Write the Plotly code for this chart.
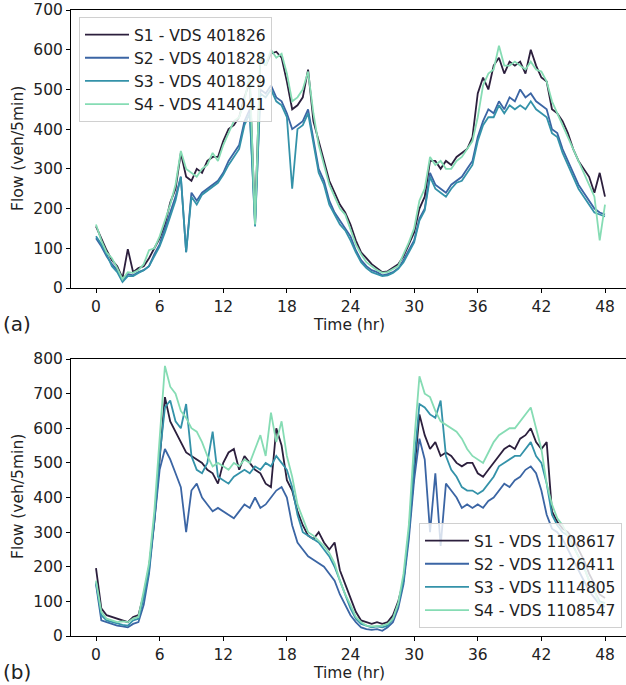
import plotly.graph_objects as go

# time grid (hours), 30-min samples
time_hr = [i * 0.5 for i in range(97)]

# ---- Panel (a) ----
a_names = ["S1 - VDS 401826", "S2 - VDS 401828", "S3 - VDS 401829", "S4 - VDS 414041"]
a_s1 = [155,125,95,70,55,25,98,40,50,55,75,100,125,160,215,250,340,280,270,300,290,320,330,330,
        370,400,410,430,480,520,170,580,560,590,595,580,520,450,460,480,550,420,370,320,270,240,
        210,190,160,120,90,75,60,50,40,42,50,60,80,110,140,200,230,320,320,300,320,310,330,340,
        350,380,490,530,500,560,580,540,570,560,570,540,600,560,530,520,450,440,420,390,350,320,
        300,280,240,290,230]
a_s2 = [125,105,80,60,45,18,35,32,40,45,55,85,110,150,190,230,280,90,240,220,240,250,260,270,
        290,320,340,360,420,450,160,500,490,510,480,470,440,400,410,420,450,380,300,270,220,190,
        170,150,130,95,70,55,45,40,32,35,40,50,70,95,120,175,200,290,260,250,240,260,270,280,
        300,320,380,420,450,440,470,450,480,470,500,480,490,470,460,450,400,390,350,320,290,260,
        240,220,200,190,185]
a_s3 = [130,110,85,55,40,15,30,30,38,45,55,80,105,140,180,220,280,90,230,210,235,245,255,265,
        285,310,330,350,410,440,155,490,480,500,470,460,430,250,400,410,440,370,290,260,210,185,
        160,145,120,90,65,50,40,35,30,32,38,48,65,90,115,170,195,280,250,240,230,250,265,270,
        290,310,370,410,430,430,460,440,460,450,460,450,470,450,440,430,390,380,340,310,280,250,
        230,210,190,185,180]
a_s4 = [160,120,90,75,50,22,40,38,45,60,95,100,130,170,210,260,345,300,290,280,300,310,340,320,
        360,390,420,430,470,540,160,590,560,600,580,590,540,470,480,500,545,440,360,310,260,230,
        200,185,150,110,85,65,55,45,38,40,48,55,85,115,150,220,250,330,310,320,300,300,320,330,
        350,370,430,510,540,550,610,560,560,570,560,550,570,550,545,520,470,440,410,380,350,320,
        290,260,230,120,210]

# ---- Panel (b) ----
b_names = ["S1 - VDS 1108617", "S2 - VDS 1126411", "S3 - VDS 1114805", "S4 - VDS 1108547"]
b_s1 = [196,80,60,55,50,45,40,55,60,120,200,330,500,690,620,590,560,530,520,510,500,480,470,440,
        500,530,540,480,520,500,480,470,440,430,600,550,450,420,360,320,290,280,300,270,250,270,
        190,150,110,70,45,40,35,40,35,40,60,100,160,300,480,640,580,540,560,520,530,520,500,490,
        500,500,470,460,480,500,520,540,550,540,570,580,600,560,540,560,360,330,310,300,280,250,
        220,180,150,120,110]
b_s2 = [150,45,40,35,30,28,25,35,40,90,180,330,480,540,510,470,430,300,420,440,400,380,360,370,
        360,350,340,360,380,370,400,370,380,400,420,430,400,320,270,250,230,220,210,200,180,160,
        120,90,60,40,25,20,18,20,15,25,40,80,150,280,450,570,510,300,470,260,440,420,400,370,
        380,370,380,370,390,400,420,440,430,450,460,480,490,470,420,350,310,300,280,250,220,190,
        160,130,110,90,85]
b_s3 = [155,60,45,40,35,32,30,45,50,110,190,340,520,660,680,620,600,670,520,480,470,500,590,460,
        450,440,460,470,480,470,490,480,500,490,520,500,480,430,350,300,290,280,270,250,230,200,
        160,120,80,50,35,30,25,28,25,30,50,90,160,300,500,670,660,640,630,680,520,480,460,430,
        420,420,410,420,440,460,490,500,510,520,520,540,560,520,500,440,350,320,300,290,260,230,
        200,160,130,100,95]
b_s4 = [160,70,50,45,40,42,40,50,55,130,210,360,560,780,720,700,650,630,600,590,560,520,490,500,
        490,480,500,490,510,500,540,580,520,645,560,620,520,460,380,340,300,290,275,260,240,210,
        160,120,90,55,40,30,28,30,30,35,50,95,180,320,560,750,700,690,650,620,610,600,590,570,
        540,520,510,500,530,560,580,590,600,600,620,640,660,600,540,440,380,340,320,290,260,230,
        200,160,130,90,95]

colors = ["#2c1f3d", "#3b65a4", "#3492a9", "#86dcb4"]

fig = go.Figure()
for name, ys, c in zip(a_names, [a_s1, a_s2, a_s3, a_s4], colors):
    fig.add_trace(go.Scatter(x=time_hr, y=ys, mode="lines", name=name,
                             line=dict(color=c, width=1.8), xaxis="x", yaxis="y",
                             legend="legend", legendgroup="a" + name))
for name, ys, c in zip(b_names, [b_s1, b_s2, b_s3, b_s4], colors):
    fig.add_trace(go.Scatter(x=time_hr, y=ys, mode="lines", name=name,
                             line=dict(color=c, width=1.8), xaxis="x2", yaxis="y2",
                             legend="legend2", legendgroup="b" + name))

FONT = "DejaVu Sans"
FS = 15.5
TXT = "#222222"
W, H = 626, 685
ML, MR, MT, MB = 71, 0, 10, 49
PW = W - ML - MR
PH = H - MT - MB

def px_to_paper_x(px):
    return (px - ML) / PW

def py_to_paper_y(py):
    return (H - MB - py) / PH

top_dom = [py_to_paper_y(288), 1.0]
bot_dom = [0.0, py_to_paper_y(359)]

xrange_ = [-2.358, 49.98]
axis_common = dict(showline=True, linecolor="black", linewidth=1, ticks="outside",
                   ticklen=4, tickwidth=1, tickcolor="black", showgrid=False, zeroline=False,
                   tickfont=dict(family=FONT, size=FS, color=TXT))
xticks = [0, 6, 12, 18, 24, 30, 36, 42, 48]

legend_common = dict(bgcolor="rgba(255,255,255,0.8)", bordercolor="#d0d0d0", borderwidth=1,
                     font=dict(family=FONT, size=FS, color=TXT), tracegroupgap=0,
                     traceorder="grouped", itemwidth=44)

fig.update_layout(
    width=W, height=H,
    margin=dict(l=ML, r=MR, t=MT, b=MB),
    paper_bgcolor="white", plot_bgcolor="white",
    font=dict(family=FONT, size=FS, color=TXT),
    xaxis=dict(domain=[0, 1], anchor="y", range=xrange_, tickvals=xticks, mirror=True, **axis_common),
    yaxis=dict(domain=top_dom, anchor="x", range=[0, 700], tickvals=list(range(0, 701, 100)),
               **axis_common),
    xaxis2=dict(domain=[0, 1], anchor="y2", range=xrange_, tickvals=xticks, mirror=True, **axis_common),
    yaxis2=dict(domain=bot_dom, anchor="x2", range=[0, 800], tickvals=list(range(0, 801, 100)),
                **axis_common),
    legend=dict(x=px_to_paper_x(79), y=py_to_paper_y(17), xanchor="left", yanchor="top",
                **legend_common),
    legend2=dict(x=px_to_paper_x(622), y=py_to_paper_y(628), xanchor="right", yanchor="bottom",
                 **legend_common),
    showlegend=True,
)

ann_font = dict(family=FONT, size=FS, color=TXT)
annotations = [
    dict(text="Flow (veh/5min)", x=px_to_paper_x(18), y=py_to_paper_y(149), textangle=-90,
         showarrow=False, xref="paper", yref="paper", font=ann_font, xanchor="center", yanchor="middle"),
    dict(text="Flow (veh/5min)", x=px_to_paper_x(18), y=py_to_paper_y(497), textangle=-90,
         showarrow=False, xref="paper", yref="paper", font=ann_font, xanchor="center", yanchor="middle"),
    dict(text="Time (hr)", x=px_to_paper_x(349), y=py_to_paper_y(325), showarrow=False,
         xref="paper", yref="paper", font=ann_font, xanchor="center", yanchor="middle"),
    dict(text="Time (hr)", x=px_to_paper_x(349), y=py_to_paper_y(673), showarrow=False,
         xref="paper", yref="paper", font=ann_font, xanchor="center", yanchor="middle"),
    dict(text="(a)", x=px_to_paper_x(1), y=py_to_paper_y(324), showarrow=False,
         xref="paper", yref="paper", font=dict(family=FONT, size=20, color=TXT),
         xanchor="left", yanchor="middle"),
    dict(text="(b)", x=px_to_paper_x(1), y=py_to_paper_y(672), showarrow=False,
         xref="paper", yref="paper", font=dict(family=FONT, size=20, color=TXT),
         xanchor="left", yanchor="middle"),
]
fig.update_layout(annotations=annotations)

fig.write_html("out.html", config={"displayModeBar": False},
               post_script="document.body.style.margin='0px';")
